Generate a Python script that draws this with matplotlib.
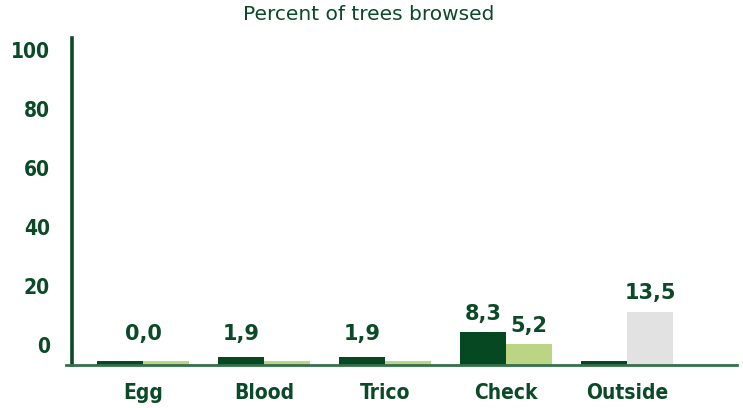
import numpy as np
import matplotlib
matplotlib.use('Agg')
import matplotlib.pyplot as plt

# data
categories = ['Egg', 'Blood', 'Trico', 'Check', 'Outside']
dark_vals = [1.0, 1.9, 1.9, 8.3, 0.9]
light_vals = [1.0, 1.0, 1.0, 5.2, 13.5]
value_labels = [['0,0'], ['1,9'], ['1,9'], ['8,3', '5,2'], ['13,5']]
axis_ticks = [0, 20, 40, 60, 80, 100]

txt = '#0b4a26'
dark = '#054822'
light = '#bbd585'
grey = '#e2e2e2'
fam = 'DejaVu Sans'

W, H = 743, 408
fig = plt.figure(figsize=(W / 100, H / 100), dpi=100)
ax = fig.add_axes([66 / W, (H - 365) / H, (737 - 66) / W, (365 - 38) / H])

x = np.arange(len(categories))
w = 0.38
light_cols = [light] * (len(categories) - 1) + [grey]
b1 = ax.bar(x - w / 2, dark_vals, w, color=dark, zorder=1)
b2 = ax.bar(x + w / 2, light_vals, w, color=light_cols, zorder=1)

ax.set_xlim(-0.636, 4.909)
ax.set_ylim(0, 82.8)

for s in ['top', 'right']:
    ax.spines[s].set_visible(False)
ax.spines['left'].set_position(('data', -0.587))
ax.spines['left'].set_color(txt)
ax.spines['left'].set_linewidth(2.6)
ax.spines['bottom'].set_color('#34704a')
ax.spines['bottom'].set_linewidth(2)
ax.set_yticks([])
ax.set_xticks(x)
ax.set_xticklabels(categories, fontsize=15, fontweight='bold', color=txt,
                   family=fam, fontstretch='condensed')
ax.tick_params(axis='x', length=0, pad=13)

# value labels
for i, labs in enumerate(value_labels):
    if i == 0:
        pos = [(x[i], max(dark_vals[i], light_vals[i]))]
    elif i == len(categories) - 1:
        pos = [(x[i] + w / 2, light_vals[i])]
    elif len(labs) == 2:
        pos = [(x[i] - w / 2, dark_vals[i]), (x[i] + w / 2, light_vals[i])]
    else:
        pos = [(x[i] - w / 2, dark_vals[i])]
    for lab, (px, py) in zip(labs, pos):
        ax.annotate(lab, (px, max(py, 3.3)), xytext=(0, 6), textcoords='offset points',
                    ha='center', va='bottom', fontsize=15, fontweight='bold',
                    color=txt, family=fam)

# percent axis labels as drawn in the reference
ax2 = ax.twinx()
ax2.set_ylim(-6.78, 104.07)
for s in ax2.spines.values():
    s.set_visible(False)
ax2.yaxis.tick_left()
ax2.set_yticks(axis_ticks)
ax2.set_yticklabels([str(t) for t in axis_ticks], fontsize=15, fontweight='bold',
                    color=txt, family=fam, fontstretch='condensed')
ax2.tick_params(axis='y', length=0, pad=11.5)

fig.text(369 / W, 1 - 15 / H, 'Percent of trees browsed', ha='center', va='center',
         fontsize=14.5, color=txt, family=fam)

fig.savefig('out.png', dpi=100)
